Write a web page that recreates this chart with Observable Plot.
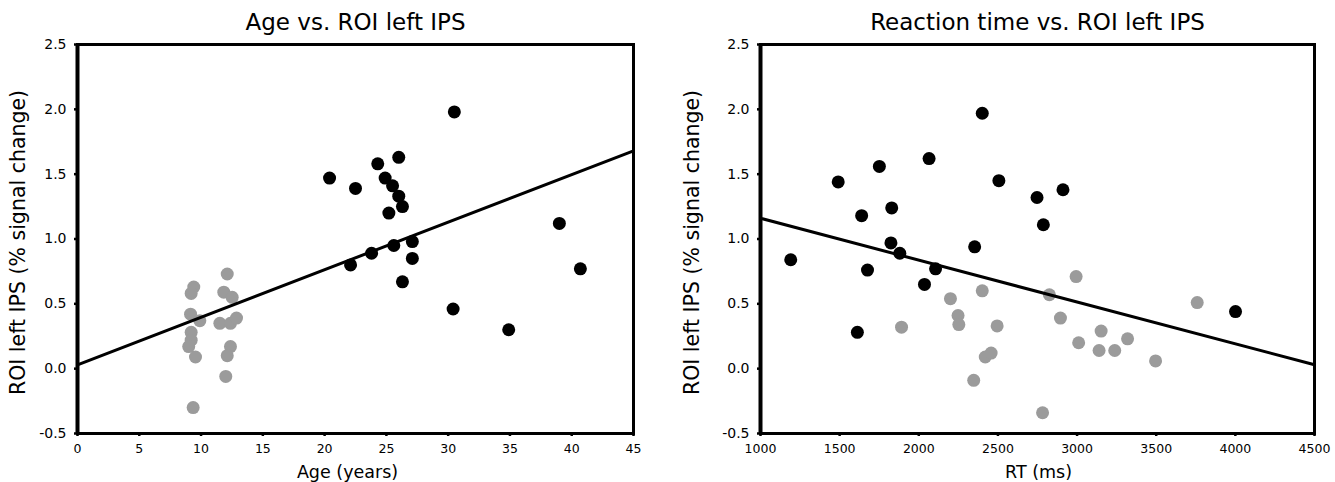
<!DOCTYPE html>
<html>
<head>
<meta charset="utf-8">
<script src="https://cdn.jsdelivr.net/npm/d3@7"></script>
<script src="https://cdn.jsdelivr.net/npm/@observablehq/plot@0.6"></script>
<style>
  html, body { margin: 0; padding: 0; background: #fff; }
  #wrap { position: relative; width: 1335px; height: 482px; }
  #left, #right { position: absolute; top: 0; }
  #left { left: 0; }
  #right { left: 667px; }
</style>
</head>
<body>
<div id="wrap"><div id="left"></div><div id="right"></div></div>
<script>
// ---- Panel 1: Age vs. ROI left IPS ----
const ageAdultX = [20.4, 22.5, 24.3, 26.0, 24.9, 25.5, 26.0, 26.3, 25.2, 30.5, 27.1, 25.6, 23.8, 22.1, 27.1, 26.3, 39.0, 40.7, 30.4, 34.9];
const ageAdultY = [1.47, 1.39, 1.58, 1.63, 1.47, 1.41, 1.33, 1.25, 1.20, 1.98, 0.98, 0.95, 0.89, 0.80, 0.85, 0.67, 1.12, 0.77, 0.46, 0.30];
const ageChildX = [12.12, 9.41, 9.2, 11.84, 12.52, 9.15, 9.9, 11.52, 12.38, 12.87, 9.2, 9.2, 9.0, 9.55, 12.38, 12.12, 12.0, 9.36];
const ageChildY = [0.73, 0.63, 0.58, 0.59, 0.55, 0.42, 0.37, 0.35, 0.35, 0.39, 0.28, 0.22, 0.17, 0.09, 0.17, 0.10, -0.06, -0.30];
const ageFitX = [0, 45];
const ageFitY = [0.03, 1.68];

// ---- Panel 2: Reaction time vs. ROI left IPS ----
const rtAdultX = [1191, 1491, 1751, 1639, 1829, 1824, 1880, 1676, 1612, 2065, 2106, 2036, 2401, 2353, 2506, 2747, 2911, 2787, 4001];
const rtAdultY = [0.84, 1.44, 1.56, 1.18, 1.24, 0.97, 0.89, 0.76, 0.28, 1.62, 0.77, 0.65, 1.97, 0.94, 1.45, 1.32, 1.38, 1.11, 0.44];
const rtChildX = [1891, 2200, 2248, 2253, 2401, 2495, 2420, 2457, 2347, 2782, 2825, 2994, 2895, 3010, 3152, 3139, 3238, 3319, 3496, 3759];
const rtChildY = [0.32, 0.54, 0.41, 0.34, 0.60, 0.33, 0.09, 0.12, -0.09, -0.34, 0.57, 0.71, 0.39, 0.20, 0.29, 0.14, 0.14, 0.23, 0.06, 0.51];
const rtFitX = [1000, 4500];
const rtFitY = [1.16, 0.03];

// ---- Axes / labels ----
const yTicks = [-0.5, 0.0, 0.5, 1.0, 1.5, 2.0, 2.5];
const ageTicks = [0, 5, 10, 15, 20, 25, 30, 35, 40, 45];
const rtTicks = [1000, 1500, 2000, 2500, 3000, 3500, 4000, 4500];
const yLabel = "ROI left IPS (% signal change)";
const titles = ["Age vs. ROI left IPS", "Reaction time vs. ROI left IPS"];
const xLabels = ["Age (years)", "RT (ms)"];

const pts = (xs, ys) => xs.map((x, i) => ({x, y: ys[i]}));

const FONT = "DejaVu Sans, Verdana, sans-serif";
const GRAY = "#9b9b9b";

function panel({width, marginLeft, marginRight, xDomain, xTicks, adult, child, fit, title, xLabel, xLabelDx, yLabelDx}) {
  return Plot.plot({
    width, height: 482,
    marginLeft, marginRight, marginTop: 44, marginBottom: 49,
    style: {fontFamily: FONT, fontSize: "12.5px", color: "#000", background: "#fff", overflow: "visible"},
    x: {domain: xDomain},
    y: {domain: [-0.5, 2.5]},
    marks: [
      Plot.axisY({ticks: yTicks, tickFormat: d => d.toFixed(1), tickSize: 3, tickPadding: 8, strokeWidth: 2.5, fontSize: 14, label: null}),
      Plot.axisX({ticks: xTicks, tickFormat: d => String(d), tickSize: 3, tickPadding: 8, strokeWidth: 2.5, fontSize: 12.5, label: null}),
      Plot.dot(child, {x: "x", y: "y", r: 6.5, fill: GRAY, stroke: "none"}),
      Plot.line(fit, {x: "x", y: "y", stroke: "#000", strokeWidth: 3}),
      Plot.dot(adult, {x: "x", y: "y", r: 6.5, fill: "#000", stroke: "none"}),
      Plot.frame({stroke: "#000", strokeWidth: 3}),
      Plot.ruleX([xDomain[0]], {stroke: "#000", strokeWidth: 4}),
      Plot.text([title], {frameAnchor: "top", dy: -22, fontSize: 23, fill: "#000", textAnchor: "middle", lineAnchor: "middle"}),
      Plot.text([xLabel], {frameAnchor: "bottom", dx: xLabelDx, dy: 39, fontSize: 17.5, fill: "#000", textAnchor: "middle", lineAnchor: "middle"}),
      Plot.text([yLabel], {frameAnchor: "left", dx: yLabelDx, dy: 3.5, rotate: -90, fontSize: 20.5, fill: "#000", textAnchor: "middle", lineAnchor: "middle"})
    ]
  });
}

document.getElementById("left").append(panel({
  width: 667, marginLeft: 77, marginRight: 34,
  xDomain: [0, 45], xTicks: ageTicks,
  adult: pts(ageAdultX, ageAdultY), child: pts(ageChildX, ageChildY), fit: pts(ageFitX, ageFitY),
  title: titles[0], xLabel: xLabels[0], xLabelDx: -8, yLabelDx: -59.5
}));
document.getElementById("right").append(panel({
  width: 668, marginLeft: 93, marginRight: 21,
  xDomain: [1000, 4500], xTicks: rtTicks,
  adult: pts(rtAdultX, rtAdultY), child: pts(rtChildX, rtChildY), fit: pts(rtFitX, rtFitY),
  title: titles[1], xLabel: xLabels[1], xLabelDx: 1, yLabelDx: -68
}));
</script>
</body>
</html>
